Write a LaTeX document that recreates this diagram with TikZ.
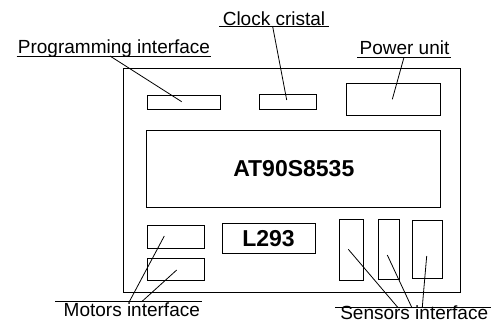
\documentclass[tikz,border=0pt]{standalone}
\definecolor{boardink}{HTML}{000000}
\usepackage{fontspec}
\setmainfont{Liberation Sans}
\usepackage{tikz}
\usetikzlibrary{positioning, calc}

\begin{document}
\begin{tikzpicture}[x=1pt, y=-1pt, line width=1pt,
    part/.style={draw=boardink, rectangle, inner sep=0pt, outer sep=0pt},
    chip/.style={part, font=\fontsize{23}{26}\selectfont\bfseries},
    caption/.style={inner sep=0pt, anchor=base, font=\fontsize{19}{22}\selectfont},
    leader/.style={draw=boardink, line width=0.8pt}]
  \useasboundingbox (0,0) rectangle (500,322);

  % Board
  \node[part, minimum width=336.7pt, minimum height=223.7pt] (board) at (292.3,180.8) {};
  \node[part, minimum width=73pt, minimum height=14pt] (prog) at (183.5,102) {};
  \node[part, minimum width=56.7pt, minimum height=15pt] (clock) at (288.3,101.5) {};
  \node[part, minimum width=93.7pt, minimum height=32pt] (power) at (393.8,99) {};
  \node[chip, minimum width=293.7pt, minimum height=77pt] (mcu) at (293.8,168.5) {AT90S8535};
  \node[part, minimum width=57pt, minimum height=22.6pt] (motorA) at (175.5,237) {};
  \node[part, minimum width=57pt, minimum height=21.7pt] (motorB) at (175.5,269.2) {};
  \node[chip, minimum width=93pt, minimum height=30pt] (driver) at (268.5,238.3) {L293};
  \node[part, minimum width=24.3pt, minimum height=60.7pt] (sensA) at (351.2,249.7) {};
  \node[part, minimum width=20.7pt, minimum height=60pt] (sensB) at (388.7,249) {};
  \node[part, minimum width=30pt, minimum height=58.3pt] (sensC) at (427.3,249.8) {};

  % Captions
  \node[caption] (proglbl) at (114,53) {Programming interface};
  \node[caption] (clocklbl) at (274,25) {Clock cristal};
  \node[caption] (powerlbl) at (404.5,54.8) {Power unit};
  \node[caption] (motorlbl) at (131.8,316.5) {Motors interface};
  \node[caption] (senslbl) at (414.2,319.3) {Sensors interface};
  \draw[leader] (16.5,56) -- (210.5,56);
  \draw[leader] (219,26.7) -- (329.3,26.7);
  \draw[leader] (357.3,57.3) -- (451,57.3);
  \draw[leader] (55,301.7) -- (201.7,301.7);
  \draw[leader] (335,307.3) -- (491,307.3);

  % Leaders
  \coordinate (progtap) at (110,56);
  \coordinate (clocktap) at (272.7,26.7);
  \coordinate (powertap) at (404,57.3);
  \coordinate (motortapA) at (129.3,301.7);
  \coordinate (motortapB) at (141.7,301.7);
  \coordinate (senstapA) at (397.7,307.3);
  \coordinate (senstapB) at (411.7,307.3);
  \coordinate (senstapC) at (422.3,307.3);
  \draw[leader] (progtap) -- ($(prog.center)+(-1.8,-0.3)$);
  \draw[leader] (clocktap) -- ($(clock.center)+(-1.6,-1.5)$);
  \draw[leader] (powertap) -- ($(power.center)+(-1.5,0.3)$);
  \draw[leader] (motortapA) -- ($(motorA.center)+(-11.2,-1)$);
  \draw[leader] (motortapB) -- ($(motorB.center)+(1.2,0.8)$);
  \draw[leader] (senstapA) -- ($(sensA.center)+(-2.9,-0.4)$);
  \draw[leader] (senstapB) -- ($(sensB.center)+(-1.4,6)$);
  \draw[leader] (senstapC) -- (423.3,295) -- ($(sensC.center)+(-0.6,6.2)$);
\end{tikzpicture}
\end{document}
